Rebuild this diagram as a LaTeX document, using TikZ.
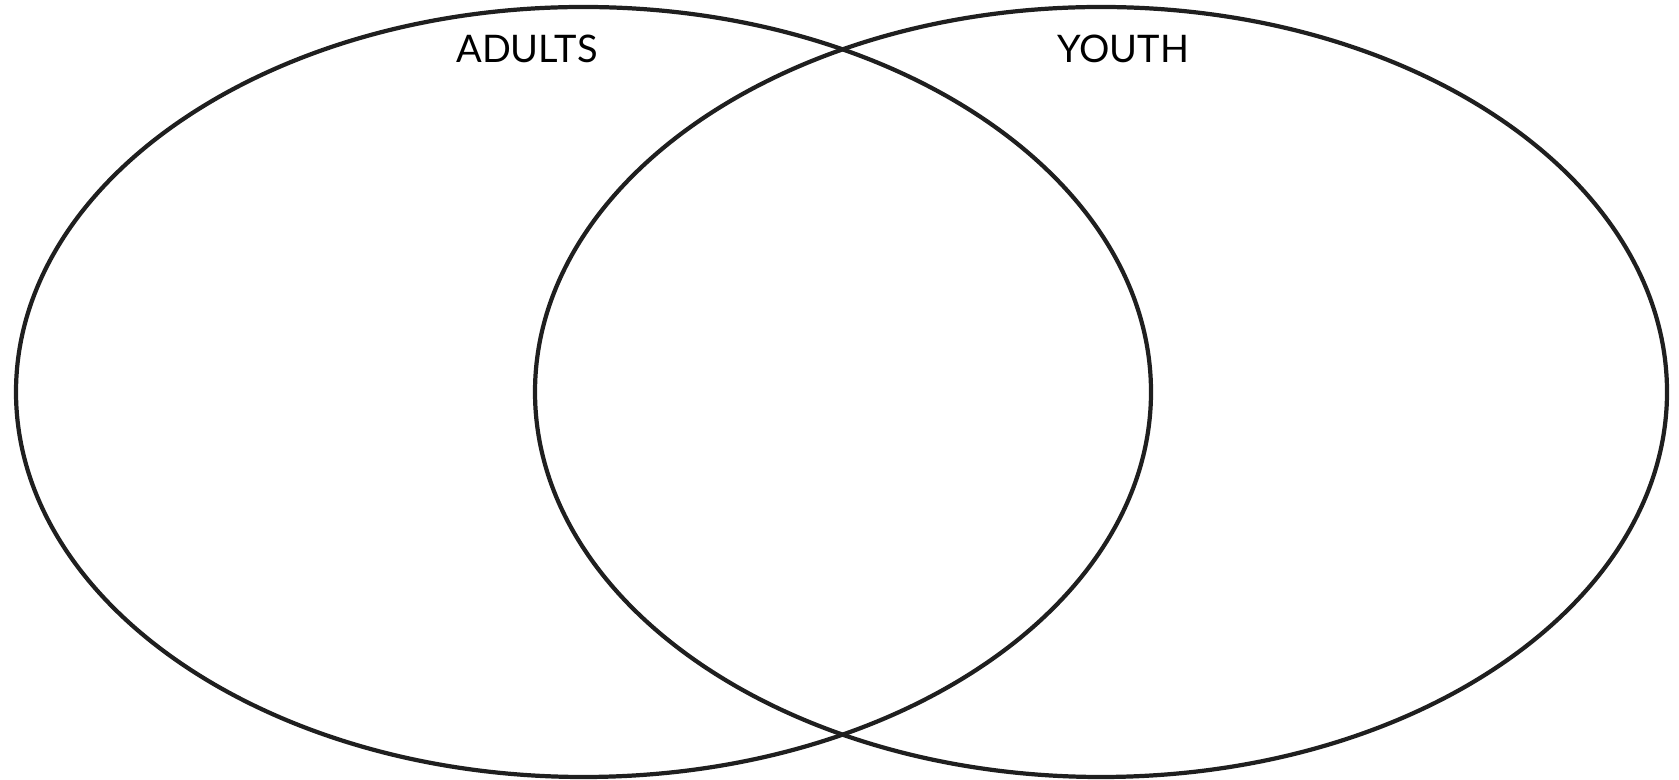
\documentclass[tikz,border=0pt]{standalone}
\usepackage{fontspec}
\setmainfont{Lato}
\begin{document}
\begin{tikzpicture}[x=0.01cm,y=-0.01cm,
  venn/.style={draw=black!88,line width=1.2pt},
  lbl/.style={font=\fontsize{10.8pt}{13pt}\selectfont,text=black,inner sep=0pt}]
\useasboundingbox (0,0) rectangle (1679,780);
\draw[venn] (583.5,392) ellipse [x radius=567.5, y radius=385];
\draw[venn] (1101,392) ellipse [x radius=566, y radius=385];
\node[lbl] (adults) at (527,48.5) {ADULTS};
\node[lbl] (youth) at (1123,48.5) {YOUTH};
\end{tikzpicture}
\end{document}
